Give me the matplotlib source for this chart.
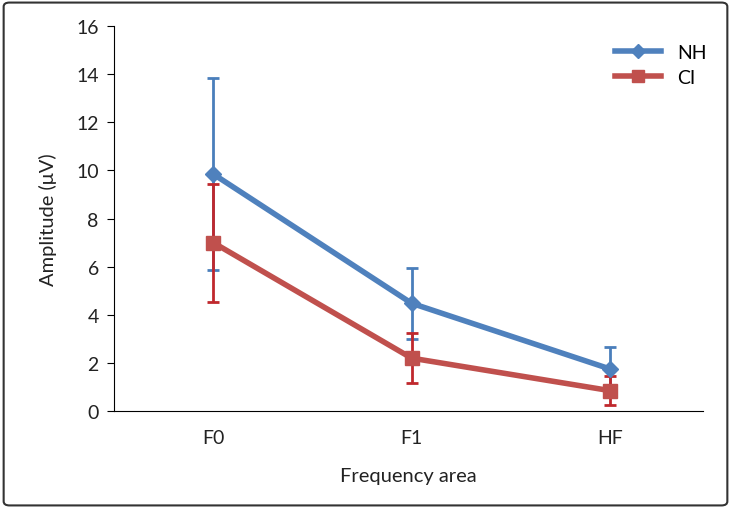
import matplotlib.pyplot as plt
from matplotlib.patches import FancyBboxPatch

# data
areas = ["F0", "F1", "HF"]
nh_mean = [9.85, 4.48, 1.75]
nh_sd = [4.0, 1.48, 0.9]
ci_mean = [7.0, 2.2, 0.85]
ci_sd = [2.45, 1.05, 0.6]

plt.rcParams['font.family'] = ['Lato', 'DejaVu Sans']

fig = plt.figure(figsize=(7.31, 5.10), dpi=100)
ax = fig.add_axes([0.156, 0.192, 0.806, 0.755])

x = range(len(areas))

# error bars
ax.errorbar(x, nh_mean, yerr=nh_sd, fmt='none', ecolor='#4a7ebb',
            elinewidth=2, capsize=4, capthick=2, zorder=2)
ax.errorbar(x, ci_mean, yerr=ci_sd, fmt='none', ecolor='#c0282d',
            elinewidth=2, capsize=4, capthick=2, zorder=2)

# lines
ax.plot(x, nh_mean, color='#4f81bd', lw=4, marker='D', ms=8,
        label='NH', zorder=3)
ax.plot(x, ci_mean, color='#c0504d', lw=4, marker='s', ms=10,
        label='CI', zorder=3)

ax.set_xlim(-0.5, 2.47)
ax.set_ylim(0, 16)
ax.set_yticks(range(0, 17, 2))
ax.set_xticks(list(x))
ax.set_xticklabels(areas)

ax.spines['top'].set_visible(False)
ax.spines['right'].set_visible(False)
ax.tick_params(axis='y', direction='out', length=5, labelsize=14, pad=6,
               labelcolor='#222222')
ax.tick_params(axis='x', length=0, labelsize=14, pad=13, labelcolor='#222222')

ax.set_xlabel("Frequency area", fontsize=14.5, labelpad=15, color='#222222')
ax.set_ylabel("Amplitude (μV)", fontsize=14.5, labelpad=14, color='#222222')

ax.legend(loc='upper right', frameon=False, fontsize=14,
          handlelength=2.4, labelspacing=0.45, markerscale=0.9,
          bbox_to_anchor=(1.035, 1.0))

# frame around the figure
fig.patches.append(FancyBboxPatch((0.005, 0.007), 0.99, 0.986,
                                  boxstyle="round,pad=0,rounding_size=0.008",
                                  transform=fig.transFigure, fill=False,
                                  edgecolor='#333333', lw=1.5))

fig.savefig("out.png", dpi=100)
